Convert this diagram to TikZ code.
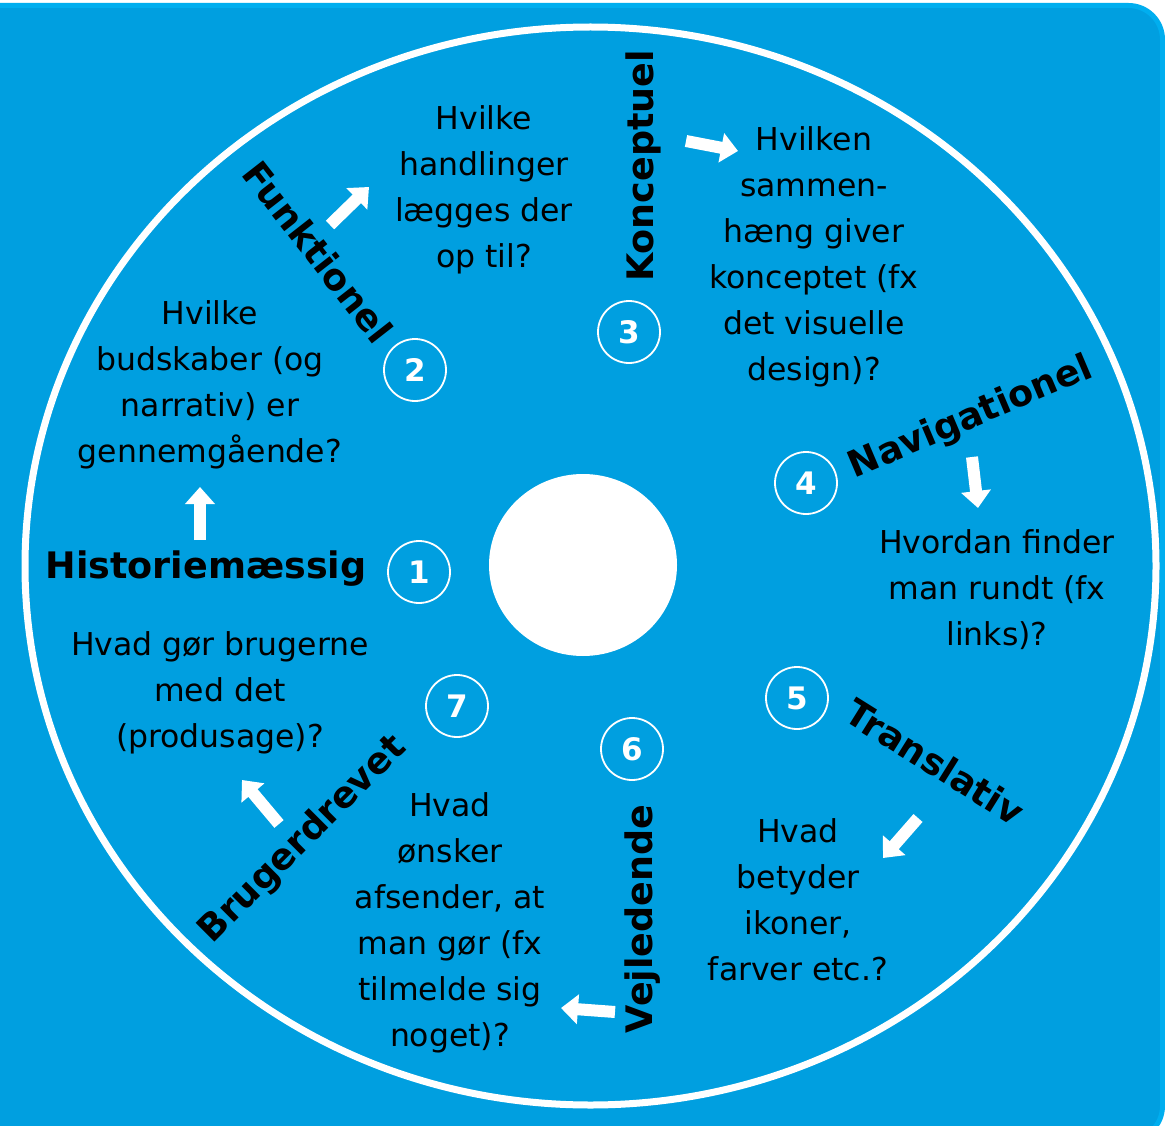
\documentclass[tikz,border=0pt]{standalone}
\usepackage{fontspec}
\setmainfont{DejaVu Sans}
\usetikzlibrary{arrows.meta,positioning}
\definecolor{wheelBlue}{HTML}{009FE0}
\definecolor{wheelEdge}{HTML}{00AEEF}

\begin{document}
\begin{tikzpicture}[x=1pt, y=-1pt,
  numring/.style={circle, draw=white, line width=1.8pt, minimum size=62pt, inner sep=0pt,
    text=white, font=\fontsize{31}{31}\selectfont\bfseries},
  facet/.style={inner sep=0pt, font=\fontsize{36.5}{36.5}\selectfont\bfseries},
  question/.style={inner sep=0pt, align=center, font=\fontsize{31.5}{46}\selectfont},
  blockarrow/.style={white, line width=12pt, -{Triangle[length=17pt,width=29pt]}}]
  \useasboundingbox (0,0) rectangle (1165,1126);
  % card and wheel
  \fill[white] (0,0) rectangle (1165,1126);
  \draw[wheelEdge, fill=wheelBlue, line width=5pt, rounded corners=34pt] (-60,5.5) rectangle (1162.5,1140);
  \draw[white, line width=7pt] (590.5,566) ellipse [x radius=565.5, y radius=539];
  \fill[white] (583,565) ellipse [x radius=94, y radius=91];
  % numbered rings
  \foreach \i/\x/\y in {1/419/572, 2/415/370, 3/629/332, 4/806/483, 5/797/698, 6/632/749, 7/457/706}
    \node[numring] (num\i) at (\x,\y) {\i};
  % facet names
  \foreach \i/\x/\y/\a/\name in {1/206/569/0/Historiemæssig, 2/318/252/-52/Funktionel,
      3/643/166/90/Konceptuel, 4/971/418/23/Navigationel, 5/935/762/-32/Translativ,
      6/643/919/90/Vejledende, 7/303/840/45/Brugerdrevet}
    \node[facet, rotate=\a] (lab\i) at (\x,\y) {\name};
  % questions
  \foreach \i/\x/\y/\txt in {
      1/210/385/{Hvilke\\budskaber (og\\narrativ) er\\gennemgående?},
      2/484/190/{Hvilke\\handlinger\\lægges der\\op til?},
      3/814/257/{Hvilken\\sammen-\\hæng giver\\konceptet (fx\\det visuelle\\design)?},
      4/997/590/{Hvordan finder\\man rundt (fx\\links)?},
      5/798/900/{Hvad\\betyder\\ikoner,\\farver etc.?},
      6/450/923/{Hvad\\ønsker\\afsender, at\\man gør (fx\\tilmelde sig\\noget)?},
      7/220/693/{Hvad gør brugerne\\med det\\(produsage)?}}
    \node[question] (q\i) at (\x,\y) {\txt};
  % arrows from facet to question
  \foreach \i/\sx/\sy/\ex/\ey in {1/200/540/200/487, 2/330/225/369/187, 3/686/141/738/151,
      4/972/457/978/508, 5/918/818/883/858, 6/615/1012/561/1008, 7/279/824/242/780} {
    \coordinate (a\i s) at (\sx,\sy);
    \coordinate (a\i e) at (\ex,\ey);
    \draw[blockarrow] (a\i s) -- (a\i e);
  }
\end{tikzpicture}
\end{document}
